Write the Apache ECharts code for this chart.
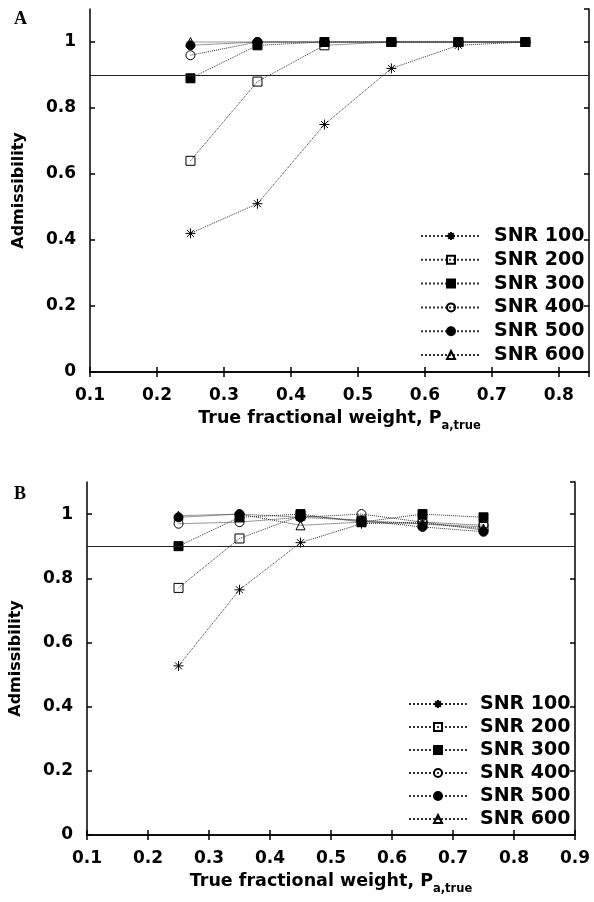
<!DOCTYPE html>
<html>
<head>
<meta charset="utf-8">
<script src="https://cdn.jsdelivr.net/npm/echarts@6/dist/echarts.min.js"></script>
<style>
html,body{margin:0;padding:0;background:#fff;}
#chart{width:594px;height:902px;}
</style>
</head>
<body>
<div id="chart"></div>
<script>
var xVals=[0.25,0.35,0.45,0.55,0.65,0.75];
var snrNames=['SNR 100','SNR 200','SNR 300','SNR 400','SNR 500','SNR 600'];

// panel A
var a100=[0.42,0.51,0.75,0.92,0.99,1.0];
var a200=[0.64,0.88,0.99,1.0,1.0,1.0];
var a300=[0.89,0.99,1.0,1.0,1.0,1.0];
var a400=[0.96,1.0,1.0,1.0,1.0,1.0];
var a500=[0.99,1.0,1.0,1.0,1.0,1.0];
var a600=[1.0,1.0,1.0,1.0,1.0,1.0];
// panel B
var b100=[0.527,0.764,0.911,0.97,0.975,0.95];
var b200=[0.77,0.924,0.995,0.98,0.97,0.96];
var b300=[0.90,0.99,1.0,0.975,1.0,0.99];
var b400=[0.97,0.975,0.99,1.0,0.975,0.965];
var b500=[0.99,1.0,0.99,0.98,0.96,0.945];
var b600=[0.995,1.0,0.965,0.975,0.97,0.955];

var threshold=0.9;

var star='path://M5 0L5 10M0 5L10 5M1.5 1.5L8.5 8.5M8.5 1.5L1.5 8.5';
var marks=[
  {symbol:star,size:10,fill:'rgba(0,0,0,0)'},
  {symbol:'rect',size:9,fill:'rgba(0,0,0,0)'},
  {symbol:'rect',size:9,fill:'#000'},
  {symbol:'circle',size:9,fill:'rgba(0,0,0,0)'},
  {symbol:'circle',size:9,fill:'#000'},
  {symbol:'triangle',size:9,fill:'rgba(0,0,0,0)'}
];

var font='"DejaVu Sans", sans-serif';
var txt={color:'#000',fontFamily:font,fontWeight:'bold',fontSize:17};

function pairs(ys){
  return xVals.map(function(x,i){return [x,ys[i]];});
}

function xAxes(idx,max,gap){
  return [{
    type:'value',gridIndex:idx,min:0.1,max:max,interval:0.1,
    axisLine:{lineStyle:{color:'#000',width:1.5}},
    axisTick:{inside:true,length:5,lineStyle:{color:'#000',width:1.5}},
    axisLabel:Object.assign({margin:15,showMaxLabel:max===0.9},txt),
    splitLine:{show:false},
    name:'{a|True fractional weight, P}{s|a,true}',
    nameLocation:'middle',nameGap:gap,
    nameTextStyle:{rich:{
      a:{fontFamily:font,fontWeight:'bold',fontSize:17.5,color:'#000',lineHeight:22},
      s:{fontFamily:font,fontWeight:'bold',fontSize:11.5,color:'#000',lineHeight:12,padding:[15,0,0,0]}
    }}
  },{
    type:'value',gridIndex:idx,min:0.1,max:max,interval:0.1,position:'top',
    axisLine:{lineStyle:{color:'#000',width:1.5}},
    axisTick:{inside:true,length:5,lineStyle:{color:'#000',width:1.5}},
    axisLabel:{show:false},splitLine:{show:false}
  }];
}
function yAxes(idx){
  return [{
    type:'value',gridIndex:idx,min:0,max:1.1,interval:0.2,
    axisLine:{show:true,lineStyle:{color:'#000',width:1.5}},
    axisTick:{show:true,inside:true,length:5,lineStyle:{color:'#000',width:1.5}},
    axisLabel:Object.assign({margin:14,showMaxLabel:false},txt),
    splitLine:{show:false},
    name:'Admissibility',nameLocation:'middle',nameGap:63,nameRotate:90,
    nameTextStyle:{color:'#000',fontFamily:font,fontWeight:'bold',fontSize:16}
  },{
    type:'value',gridIndex:idx,min:0,max:1.1,interval:0.2,position:'right',
    axisLine:{show:true,lineStyle:{color:'#000',width:1.5}},
    axisTick:{show:true,inside:true,length:5,lineStyle:{color:'#000',width:1.5}},
    axisLabel:{show:false},splitLine:{show:false}
  }];
}

function makeSeries(idx,sets){
  return sets.map(function(ys,i){
    var s={
      name:snrNames[i],type:'line',xAxisIndex:idx*2,yAxisIndex:idx*2,
      data:pairs(ys),symbol:marks[i].symbol,symbolSize:marks[i].size,
      showAllSymbol:true,animation:false,
      lineStyle:{color:'#333',width:1,type:'dotted'},
      itemStyle:{color:marks[i].fill,borderColor:'#000',borderWidth:1},
      emphasis:{disabled:true}
    };
    if(i===0){
      s.markLine={silent:true,symbol:'none',label:{show:false},
        lineStyle:{color:'#222',width:1.2,type:'solid'},
        data:[{yAxis:threshold}]};
    }
    return s;
  });
}

function legendAt(left,top,w,gap){
  return {
    data:snrNames,orient:'vertical',left:left,top:top,
    itemWidth:w,itemHeight:10,itemGap:gap,
    selectedMode:false,
    textStyle:{color:'#000',fontFamily:font,fontWeight:'bold',fontSize:19,padding:[0,0,0,8],lineHeight:20}
  };
}

var chart=echarts.init(document.getElementById('chart'));
chart.setOption({
  backgroundColor:'#fff',
  animation:false,
  title:[
    {text:'A',left:9,top:5,textStyle:{fontFamily:'"Liberation Serif", serif',fontWeight:'bold',fontSize:18,color:'#000'}},
    {text:'B',left:9,top:480,textStyle:{fontFamily:'"Liberation Serif", serif',fontWeight:'bold',fontSize:18,color:'#000'}}
  ],
  legend:[legendAt(415,221,60,3.8),legendAt(403,689,58,3)],
  grid:[
    {left:90,top:9,right:5,bottom:530,outerBoundsMode:'none'},
    {left:87,top:482,right:19,bottom:67,outerBoundsMode:'none'}
  ],
  xAxis:xAxes(0,0.845,33).concat(xAxes(1,0.9,31)),
  yAxis:yAxes(0).concat(yAxes(1)),
  series:makeSeries(0,[a100,a200,a300,a400,a500,a600])
    .concat(makeSeries(1,[b100,b200,b300,b400,b500,b600]))
});
</script>
</body>
</html>
